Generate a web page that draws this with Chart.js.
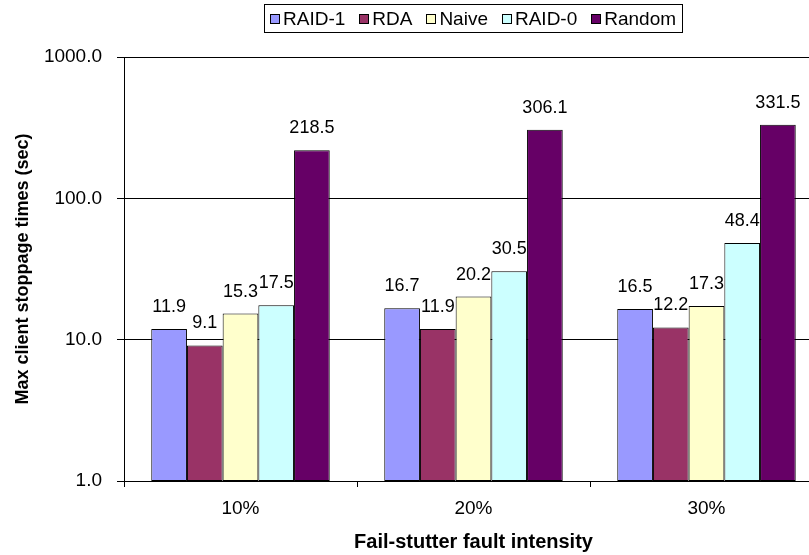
<!DOCTYPE html>
<html>
<head>
<meta charset="utf-8">
<script src="https://cdn.jsdelivr.net/npm/chart.js@4/dist/chart.umd.min.js"></script>
<style>
  html, body { margin: 0; padding: 0; background: #fff; }
  #frame { width: 809px; height: 555px; overflow: hidden; position: relative; }
  #chart { display: block; }
</style>
</head>
<body>
<div id="frame"><canvas id="chart" width="840" height="555"></canvas></div>
<script>
// Fault intensity levels on the x axis
const categories = ['10%', '20%', '30%'];

// Max client stoppage time (sec) per scheme
const raid1  = [11.9, 16.7, 16.5];
const rda    = [9.1, 11.9, 12.2];
const naive  = [15.3, 20.2, 17.3];
const raid0  = [17.5, 30.5, 48.4];
const random = [218.5, 306.1, 331.5];

const seriesNames = ['RAID-1', 'RDA', 'Naive', 'RAID-0', 'Random'];
const yTicks = [1, 10, 100, 1000];

const FONT = "'Liberation Sans', Arial, Helvetica, sans-serif";
Chart.defaults.font.family = FONT;
Chart.defaults.color = '#000';

const colors = ['#9999FF', '#993366', '#FFFFCC', '#CCFFFF', '#660066'];
const seriesData = [raid1, rda, naive, raid0, random];

const datasets = seriesNames.map((name, i) => ({
  label: name,
  data: seriesData[i],
  backgroundColor: colors[i],
  borderColor: '#000',
  borderWidth: 1,
  borderSkipped: false,
  categoryPercentage: 0.766,
  barPercentage: 1.0
}));

// Value labels above every bar
const valueLabels = {
  id: 'valueLabels',
  afterDatasetsDraw(chart) {
    const ctx = chart.ctx;
    ctx.save();
    ctx.font = '18px ' + FONT;
    ctx.fillStyle = '#000';
    ctx.textAlign = 'center';
    ctx.textBaseline = 'alphabetic';
    chart.data.datasets.forEach((ds, di) => {
      const meta = chart.getDatasetMeta(di);
      meta.data.forEach((el, i) => {
        ctx.fillText(Number(ds.data[i]).toFixed(1), el.x, el.y - 17);
      });
    });
    ctx.restore();
  }
};

// Boxed legend centred over the plot area
const boxedLegend = {
  id: 'boxedLegend',
  afterDraw(chart) {
    const ctx = chart.ctx;
    const area = chart.chartArea;
    ctx.save();
    ctx.font = '19px ' + FONT;
    const pad = 6, marker = 10, gap = 3, spacing = 14;
    const items = chart.data.datasets.map(ds => ({
      text: ds.label, color: ds.backgroundColor, w: ctx.measureText(ds.label).width
    }));
    let total = pad * 2;
    items.forEach((it, i) => { total += marker + gap + it.w + (i ? spacing : 0); });
    const boxH = 28, top = 4;
    const left = Math.round((area.left + area.right) / 2 - total / 2);
    ctx.strokeStyle = '#000';
    ctx.lineWidth = 1;
    ctx.strokeRect(left + 0.5, top + 0.5, Math.round(total), boxH);
    const cy = top + boxH / 2 + 0.5;
    let x = left + pad;
    ctx.textBaseline = 'middle';
    ctx.textAlign = 'left';
    items.forEach((it, i) => {
      if (i) x += spacing;
      const my = Math.round(cy - marker / 2);
      ctx.fillStyle = it.color;
      ctx.fillRect(Math.round(x), my, marker, marker);
      ctx.strokeStyle = '#000';
      ctx.strokeRect(Math.round(x) + 0.5, my + 0.5, marker - 1, marker - 1);
      x += marker + gap;
      ctx.fillStyle = '#000';
      ctx.fillText(it.text, x, cy + 1);
      x += it.w;
    });
    ctx.restore();
  }
};

new Chart(document.getElementById('chart'), {
  type: 'bar',
  data: { labels: categories, datasets },
  options: {
    responsive: false,
    animation: false,
    devicePixelRatio: 1,
    layout: { padding: { top: 57, right: 17, left: 0, bottom: 0 } },
    plugins: { legend: { display: false }, tooltip: { enabled: false } },
    scales: {
      x: {
        grid: { display: true, drawOnChartArea: false, drawTicks: true, tickLength: 6, color: '#000', offset: true },
        border: { display: true, color: '#000', width: 1 },
        ticks: { font: { size: 19 }, color: '#000', padding: 10, maxRotation: 0 },
        title: { display: true, text: 'Fail-stutter fault intensity', font: { size: 20, weight: 'bold' }, color: '#000', padding: { top: 0, bottom: 1 } },
        afterFit(scale) { scale.height = 74; }
      },
      y: {
        type: 'logarithmic',
        min: 1,
        max: 1000,
        afterBuildTicks(scale) { scale.ticks = yTicks.map(v => ({ value: v, major: true })); },
        grid: { color: '#000', tickLength: 7, drawTicks: true, drawOnChartArea: true },
        border: { display: true, color: '#000', width: 1 },
        ticks: { font: { size: 19 }, color: '#000', padding: 15, callback: v => Number(v).toFixed(1) },
        title: { display: true, text: 'Max client stoppage times (sec)', font: { size: 18, weight: 'bold' }, color: '#000', padding: { top: 12, bottom: 0 } },
        afterFit(scale) { scale.width = 124; }
      }
    }
  },
  plugins: [valueLabels, boxedLegend]
});
</script>
</body>
</html>
